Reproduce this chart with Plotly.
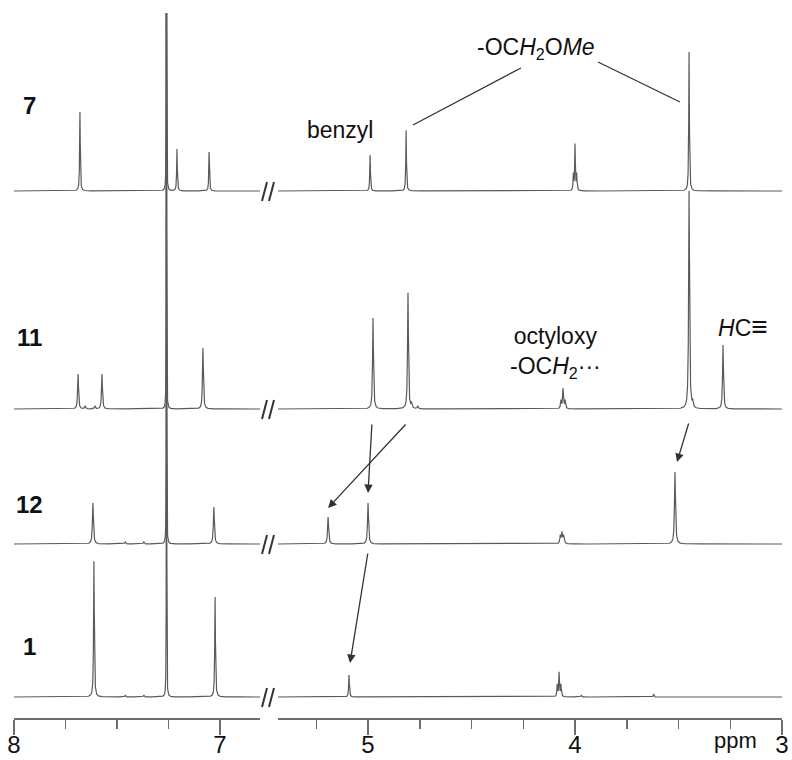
import numpy as np
import plotly.graph_objects as go

# ---------------- data ----------------
spectra_names = ["7", "11", "12", "1"]
baselines = [527, 309, 174, 21]          # stacking offsets (intensity units)
label_rise = [86, 72, 40, 51]            # label height above baseline
gammas = [0.0018, 0.0025, 0.0028, 0.002]  # line half-widths (ppm)
solvent_ppm = 7.26
solvent_int = 700
solvent_gamma = 0.0006

peaks_7_ppm = [7.680, 7.209, 7.053, 4.990, 4.816, 4.008, 4.000, 3.992, 3.449]
peaks_7_int = [79, 42, 39, 36, 61, 16, 46, 16, 139]

peaks_11_ppm = [7.689, 7.655, 7.607, 7.573, 7.083, 4.976, 4.807, 4.790, 4.760,
                4.068, 4.058, 4.048, 3.449, 3.432, 3.285]
peaks_11_int = [35, 3, 3, 35, 61, 91, 116, 5, 3, 8, 20, 8, 218, 6, 64]

peaks_12_ppm = [7.617, 7.460, 7.370, 7.030, 5.193, 5.000, 4.071, 4.063, 4.055, 3.517]
peaks_12_int = [41, 2, 2, 37, 27, 41, 8, 11, 8, 72]

peaks_1_ppm = [7.612, 7.460, 7.370, 7.024, 5.092, 4.086, 4.077, 4.068, 3.970, 3.620]
peaks_1_int = [136, 2, 2, 100, 22, 12, 24, 12, 2, 3]

peak_ppm = [peaks_7_ppm, peaks_11_ppm, peaks_12_ppm, peaks_1_ppm]
peak_int = [peaks_7_int, peaks_11_int, peaks_12_int, peaks_1_int]

left_range = [8.0, 6.806]
right_range = [5.435, 3.0]

# ---------------- figure ----------------
GREY = "#5a5a5a"
FONT = "Liberation Sans, Arial, sans-serif"

def lorentz(grid, p, h, g):
    return h * g * g / ((grid - p) ** 2 + g * g)

def spectrum(grid, ppms, ints, g):
    y = lorentz(grid, solvent_ppm, solvent_int, solvent_gamma)
    for p, h in zip(ppms, ints):
        y = y + lorentz(grid, p, h, g)
    return y

grid_l = np.linspace(left_range[0], left_range[1], 6000)
grid_r = np.linspace(right_range[0], right_range[1], 8000)

fig = go.Figure()
for name, base, ppms, ints, g in zip(spectra_names, baselines, peak_ppm, peak_int, gammas):
    fig.add_trace(go.Scatter(x=grid_l, y=base + spectrum(grid_l, ppms, ints, g),
                             xaxis="x", yaxis="y", mode="lines",
                             line=dict(color=GREY, width=1.2), hoverinfo="skip",
                             showlegend=False))
    fig.add_trace(go.Scatter(x=grid_r, y=base + spectrum(grid_r, ppms, ints, g),
                             xaxis="x2", yaxis="y", mode="lines",
                             line=dict(color=GREY, width=1.2), hoverinfo="skip",
                             showlegend=False))

W, H = 792, 760
pw, ph = 768, 705
ML, MT = 14, 13
MR = W - ML - pw
MB = H - MT - ph
left_px = 246
gap_px = 18

axis_common = dict(showline=True, linecolor="#6e6e6e", linewidth=1.5,
                   ticks="outside", ticklen=15, tickwidth=1.5, tickcolor="#6e6e6e",
                   showgrid=False, zeroline=False, dtick=1, tick0=0, automargin=False,
                   ticklabelstandoff=-10,
                   tickfont=dict(size=24, color="#111", family=FONT),
                   minor=dict(ticks="outside", ticklen=9, tickwidth=1.5,
                              tickcolor="#6e6e6e", dtick=0.25, tick0=0, showgrid=False),
                   anchor="y", fixedrange=True)

fig.update_layout(
    width=W, height=H,
    margin=dict(l=ML, r=MR, t=MT, b=MB, autoexpand=False),
    plot_bgcolor="white", paper_bgcolor="white",
    xaxis=dict(domain=[0, left_px / pw], range=left_range, **axis_common),
    xaxis2=dict(domain=[(left_px + gap_px) / pw, 1], range=right_range, **axis_common),
    yaxis=dict(range=[0, ph], visible=False, fixedrange=True, automargin=False),
    font=dict(family=FONT, color="#111"),
)

ann = []
for name, base, rise in zip(spectra_names, baselines, label_rise):
    ann.append(dict(x=15 / pw, xref="paper", y=base + rise, yref="y",
                    xanchor="center", yanchor="middle",
                    text=f"<b>{name}</b>", showarrow=False,
                    font=dict(size=24, family=FONT, color="#111")))

# axis break marks on each baseline
shapes = []
x0 = (left_px + 2) / pw
dx = 5 / pw
for base in baselines:
    for k in range(2):
        xs = x0 + k * 7 / pw
        shapes.append(dict(type="line", xref="paper", yref="y",
                           x0=xs, y0=base - 10, x1=xs + dx, y1=base + 9,
                           line=dict(color="#333", width=2)))

ann += [
    dict(x=5.135, xref="x2", y=588, yref="y", text="benzyl", showarrow=False,
         xanchor="center", font=dict(size=23, family=FONT, color="#111")),
    dict(x=4.19, xref="x2", y=670, yref="y", text="-OC<i>H</i><sub>2</sub>O<i>Me</i>",
         xanchor="center", showarrow=False, font=dict(size=23, family=FONT, color="#111")),
    dict(x=4.092, xref="x2", y=366, yref="y", text="octyloxy<br>-OC<i>H</i><sub>2</sub>···",
         xanchor="center", showarrow=False, font=dict(size=23, family=FONT, color="#111")),
    dict(x=3.188, xref="x2", y=392, yref="y", text="<i>H</i>C<span style='font-size:28px'>≡</span>",
         xanchor="center", showarrow=False, font=dict(size=23, family=FONT, color="#111")),
    dict(x=(735 - 14) / pw, xref="paper", y=-22 / ph, yref="paper",
         xanchor="center", yanchor="middle",
         text="ppm", showarrow=False, font=dict(size=22, family=FONT, color="#111")),
]

shapes += [
    dict(type="line", xref="x2", yref="y", x0=4.783, y0=593, x1=4.261, y1=650,
         line=dict(color="#333", width=1.3)),
    dict(type="line", xref="x2", yref="y", x0=3.889, y0=656, x1=3.493, y1=616,
         line=dict(color="#333", width=1.3)),
]

arrows = [
    (4.812, 295, 5.193, 210),
    (4.981, 295, 5.000, 225),
    (3.449, 296, 3.507, 256),
    (5.000, 166, 5.087, 55),
]
for tx, ty, hx, hy in arrows:
    ann.append(dict(x=hx, y=hy, xref="x2", yref="y", ax=tx, ay=ty, axref="x2", ayref="y",
                    text="", showarrow=True, arrowhead=2, arrowsize=1.3, arrowwidth=1.3,
                    arrowcolor="#333", standoff=0))

fig.update_layout(annotations=ann, shapes=shapes)
fig.write_html("out.html",
               config={"displayModeBar": False, "staticPlot": True},
               post_script="document.body.style.margin='0';document.body.style.overflow='hidden';")
